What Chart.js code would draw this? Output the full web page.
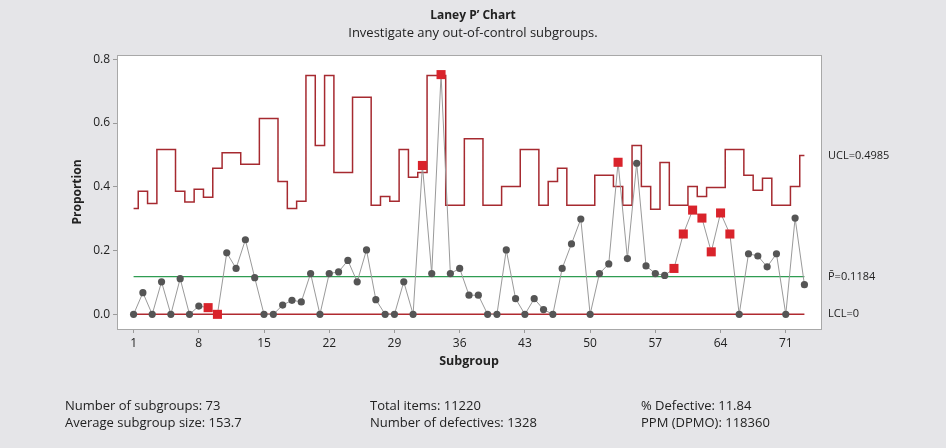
<!DOCTYPE html>
<html>
<head>
<meta charset="utf-8">
<script src="https://cdn.jsdelivr.net/npm/chart.js@4/dist/chart.umd.min.js"></script>
<style>
  html, body { margin: 0; padding: 0; background: #e5e5e8; }
  #wrap { position: relative; width: 946px; height: 448px; background: #e5e5e8; overflow: hidden; }
  #c { position: absolute; left: 0; top: 0; }
  .stat { position: absolute; font-family: "Open Sans", sans-serif; font-size: 13px; color: #222; line-height: 17px; white-space: nowrap; }
</style>
</head>
<body>
<div id="wrap">
  <canvas id="c" width="946" height="448"></canvas>
  <div class="stat" style="left:65px; top:397px;">Number of subgroups: 73<br>Average subgroup size: 153.7</div>
  <div class="stat" style="left:370px; top:397px;">Total items: 11220<br>Number of defectives: 1328</div>
  <div class="stat" style="left:641px; top:397px;">% Defective: 11.84<br>PPM (DPMO): 118360</div>
</div>
<script>
// ---- Data ----
const subgroups = [1,2,3,4,5,6,7,8,9,10,11,12,13,14,15,16,17,18,19,20,21,22,23,24,25,26,27,28,29,30,31,32,33,34,35,36,37,38,39,40,41,42,43,44,45,46,47,48,49,50,51,52,53,54,55,56,57,58,59,60,61,62,63,64,65,66,67,68,69,70,71,72,73];
const proportions = [0,0.068,0,0.102,0,0.112,0,0.026,0.021,0,
  0.193,0.144,0.234,0.115,0,0,0.029,0.044,0.039,0.128,
  0,0.128,0.133,0.169,0.102,0.202,0.046,0,0,0.102,
  0,0.467,0.128,0.752,0.128,0.144,0.06,0.06,0,0,
  0.202,0.049,0,0.049,0.015,0,0.144,0.221,0.299,0,
  0.128,0.158,0.477,0.175,0.474,0.152,0.128,0.122,0.144,0.252,
  0.327,0.302,0.196,0.318,0.252,0,0.19,0.183,0.149,0.19,
  0,0.302,0.093];
const ucl = [0.332,0.386,0.348,0.517,0.517,0.386,0.352,0.392,0.367,0.458,
  0.507,0.507,0.471,0.471,0.614,0.614,0.417,0.332,0.355,0.749,
  0.53,0.749,0.445,0.445,0.681,0.681,0.342,0.37,0.355,0.517,
  0.43,0.445,0.749,0.749,0.342,0.342,0.551,0.551,0.342,0.342,
  0.401,0.401,0.517,0.517,0.342,0.417,0.458,0.342,0.342,0.342,
  0.436,0.436,0.401,0.342,0.53,0.401,0.33,0.476,0.342,0.342,
  0.401,0.37,0.398,0.398,0.517,0.517,0.436,0.389,0.427,0.342,
  0.342,0.401,0.4985];
const flagged = [9,10,32,34,53,59,60,61,62,63,64,65];
const pBar = 0.1184;
const lcl = 0;
const xTicks = [1,8,15,22,29,36,43,50,57,64,71];
const yTicks = [0, 0.2, 0.4, 0.6, 0.8];
const yTickLabels = ['0.0','0.2','0.4','0.6','0.8'];
const limitLabels = ['UCL=0.4985', 'P\u0304=0.1184', 'LCL=0'];

// ---- Chart ----
const FONT = '"Open Sans", sans-serif';
const first = subgroups[0], last = subgroups[subgroups.length - 1];

const framePlugin = {
  id: 'frame',
  beforeDraw(chart) {
    const {ctx, chartArea: a} = chart;
    ctx.save();
    ctx.fillStyle = '#ffffff';
    ctx.fillRect(a.left, a.top, a.right - a.left, a.bottom - a.top);
    ctx.restore();
  },
  afterDraw(chart) {
    const {ctx, chartArea: a, scales} = chart;
    ctx.save();
    ctx.strokeStyle = '#a8a8a8';
    ctx.lineWidth = 1;
    ctx.strokeRect(Math.round(a.left) + 0.5, Math.round(a.top) + 0.5,
                   Math.round(a.right - a.left), Math.round(a.bottom - a.top));
    ctx.fillStyle = '#222';
    ctx.font = '11px ' + FONT;
    ctx.textBaseline = 'middle';
    ctx.textAlign = 'left';
    const ys = scales.y;
    const vals = [ucl[ucl.length - 1], pBar, lcl];
    vals.forEach((v, i) => {
      ctx.fillText(limitLabels[i], a.right + 7, ys.getPixelForValue(v));
    });
    ctx.restore();
  }
};

new Chart(document.getElementById('c'), {
  type: 'line',
  data: {
    datasets: [
      {
        label: 'Proportion',
        data: subgroups.map((s, i) => ({x: s, y: proportions[i]})),
        borderColor: '#9a9a9a',
        borderWidth: 1,
        pointStyle: (c) => flagged.includes(subgroups[c.dataIndex]) ? 'rect' : 'circle',
        pointRadius: (c) => flagged.includes(subgroups[c.dataIndex]) ? 6.4 : 3.6,
        pointBackgroundColor: (c) => flagged.includes(subgroups[c.dataIndex]) ? '#d9232b' : '#555555',
        pointBorderWidth: 0,
        pointHoverRadius: 4,
        tension: 0
      },
      {
        label: 'UCL',
        data: subgroups.map((s, i) => ({x: s, y: ucl[i]})),
        borderColor: '#a62a30',
        borderWidth: 1.5,
        stepped: 'middle',
        pointRadius: 0
      },
      {
        label: 'PBar',
        data: [{x: first, y: pBar}, {x: last, y: pBar}],
        borderColor: '#2f9c52',
        borderWidth: 1.3,
        pointRadius: 0
      },
      {
        label: 'LCL',
        data: [{x: first, y: lcl}, {x: last, y: lcl}],
        borderColor: '#b02a30',
        borderWidth: 1.5,
        pointRadius: 0
      }
    ]
  },
  options: {
    responsive: false,
    animation: false,
    devicePixelRatio: 1,
    layout: { padding: { left: 0, right: 0, top: 0, bottom: 74 } },
    plugins: {
      legend: { display: false },
      tooltip: { enabled: false },
      title: {
        display: true,
        text: 'Laney P\u2019 Chart',
        color: '#222',
        font: { family: FONT, size: 12, weight: 'bold' },
        padding: { top: 8.5, bottom: 3 }
      },
      subtitle: {
        display: true,
        text: 'Investigate any out-of-control subgroups.',
        color: '#222',
        font: { family: FONT, size: 13 },
        padding: { top: 0, bottom: 13.5 }
      }
    },
    scales: {
      x: {
        type: 'linear',
        min: -0.78,
        max: 74.78,
        afterFit(scale) { scale.height = 45; },
        afterBuildTicks(scale) { scale.ticks = xTicks.map(v => ({value: v})); },
        ticks: {
          autoSkip: false,
          maxRotation: 0,
          padding: 3,
          color: '#222',
          font: { family: FONT, size: 12 },
          callback: (v) => String(v)
        },
        grid: { drawOnChartArea: false, drawTicks: true, tickLength: 4, color: '#9a9a9a' },
        border: { display: true, color: '#a8a8a8' },
        title: {
          display: true,
          text: 'Subgroup',
          color: '#222',
          font: { family: FONT, size: 12.5, weight: 'bold' },
          padding: { top: 0, bottom: 5.5 }
        }
      },
      y: {
        min: -0.046,
        max: 0.8135,
        afterFit(scale) { scale.width = 117; },
        afterBuildTicks(scale) { scale.ticks = yTicks.map(v => ({value: v})); },
        ticks: {
          autoSkip: false,
          padding: 3,
          color: '#222',
          font: { family: FONT, size: 12 },
          callback: (v) => yTickLabels[yTicks.indexOf(v)] !== undefined ? yTickLabels[yTicks.indexOf(v)] : ''
        },
        grid: { drawOnChartArea: false, drawTicks: true, tickLength: 4, color: '#9a9a9a' },
        border: { display: true, color: '#a8a8a8' },
        title: {
          display: true,
          text: 'Proportion',
          color: '#222',
          font: { family: FONT, size: 12, weight: 'bold' },
          padding: { top: 70.8, bottom: 0 }
        }
      },
      yRight: {
        position: 'right',
        display: true,
        min: 0,
        max: 1,
        afterFit(scale) { scale.width = 125; },
        ticks: { display: false },
        grid: { display: false, drawTicks: false },
        border: { display: false },
        title: { display: false }
      }
    }
  },
  plugins: [framePlugin]
});
</script>
</body>
</html>
